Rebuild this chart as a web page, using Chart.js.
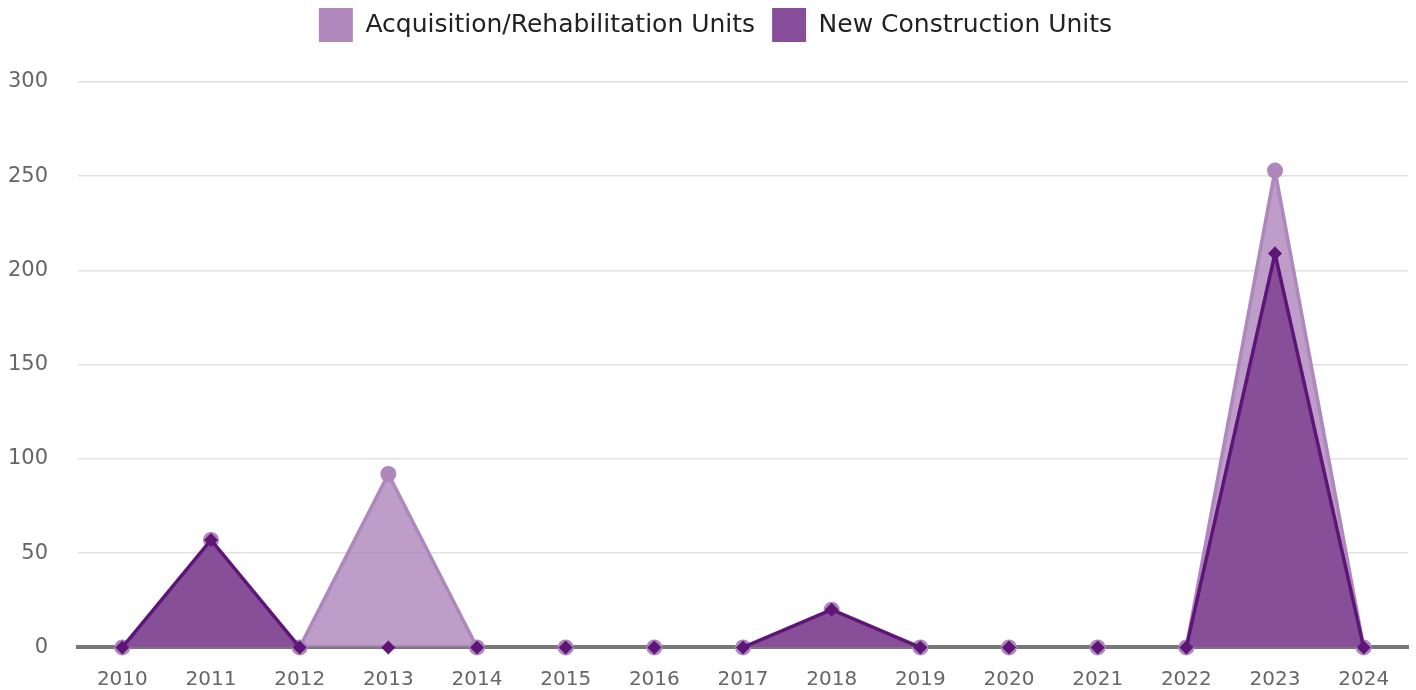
<!DOCTYPE html>
<html>
<head>
<meta charset="utf-8">
<script src="https://cdn.jsdelivr.net/npm/chart.js@4"></script>
<style>
  html, body { margin: 0; padding: 0; background: #fff; }
  #wrap { width: 1416px; height: 690px; }
</style>
</head>
<body>
<div id="wrap"><canvas id="chart"></canvas></div>
<script>
const years = ['2010','2011','2012','2013','2014','2015','2016','2017','2018','2019','2020','2021','2022','2023','2024'];
const newConstruction = [0, 57, 0, 0, 0, 0, 0, 0, 20, 0, 0, 0, 0, 209, 0];
const acqRehab = [0, 0, 0, 92, 0, 0, 0, 0, 0, 0, 0, 0, 0, 44, 0];
const yTicks = [0, 50, 100, 150, 200, 250, 300];

const FONT = "'DejaVu Sans', sans-serif";

// extra room under the legend, and nudge it a bit to the right
const legendGap = {
  id: 'legendGap',
  beforeInit(chart) {
    const fit = chart.legend.fit;
    chart.legend.fit = function () { fit.bind(chart.legend)(); this.height += 30; };
  },
  afterLayout(chart) {
    chart.legend.left += 10; chart.legend.right += 10;
  }
};

// hide line segments that just run along the zero baseline
const flatSeg = (color) => (ctx) =>
  (ctx.p0.parsed.y === 0 && ctx.p1.parsed.y === 0) ? 'rgba(0,0,0,0)' : color;

const data = {
  labels: years,
  datasets: [
    {
      label: 'New Construction Units', data: newConstruction,
      borderColor: '#5e1578', backgroundColor: 'rgba(135,78,152,0.98)', borderWidth: 3.5,
      segment: { borderColor: flatSeg('#5e1578') },
      pointStyle: 'rectRot', pointRadius: 7, pointHoverRadius: 7,
      pointBackgroundColor: '#5e1578', pointBorderColor: '#5e1578', pointBorderWidth: 0,
      fill: 'origin', tension: 0, clip: false
    },
    {
      label: 'Acquisition/Rehabilitation Units', data: acqRehab,
      borderColor: '#ae87bc', backgroundColor: 'rgba(176,136,189,0.82)', borderWidth: 3.5,
      segment: { borderColor: flatSeg('#ae87bc') },
      pointStyle: 'circle', pointRadius: 8, pointHoverRadius: 8,
      pointBackgroundColor: '#ae87bc', pointBorderColor: '#ae87bc', pointBorderWidth: 0,
      fill: 'origin', tension: 0, clip: false
    }
  ]
};

new Chart(document.getElementById('chart').getContext('2d'), {
  type: 'line',
  data,
  plugins: [legendGap],
  options: {
    responsive: true, maintainAspectRatio: false, animation: false,
    layout: { padding: { left: 0, right: 5, top: -9, bottom: 0 } },
    scales: {
      x: {
        offset: true,
        afterFit: (s) => { s.height = 42; },
        grid: { display: false },
        border: { color: '#777', width: 4 },
        ticks: { color: '#666', font: { family: FONT, size: 20 }, padding: 12, maxRotation: 0 }
      },
      y: {
        stacked: true,
        min: 0, max: 300,
        afterBuildTicks: (s) => { s.ticks = yTicks.map(v => ({ value: v })); },
        afterFit: (s) => { s.width = 78; },
        grid: { color: '#e2e2e2', lineWidth: 1.5, drawTicks: false },
        border: { display: false },
        ticks: { color: '#666', font: { family: FONT, size: 21 }, padding: 30 }
      }
    },
    plugins: {
      legend: {
        reverse: true,
        labels: {
          color: '#222', font: { family: FONT, size: 25 },
          boxWidth: 34, boxHeight: 34, padding: 17,
          generateLabels: (c) => Chart.defaults.plugins.legend.labels.generateLabels(c).map(l => {
            l.fillStyle = l.datasetIndex === 0 ? '#874d98' : '#b088bd';
            l.lineWidth = 0;
            return l;
          })
        }
      },
      tooltip: { enabled: false }
    }
  }
});
</script>
</body>
</html>
